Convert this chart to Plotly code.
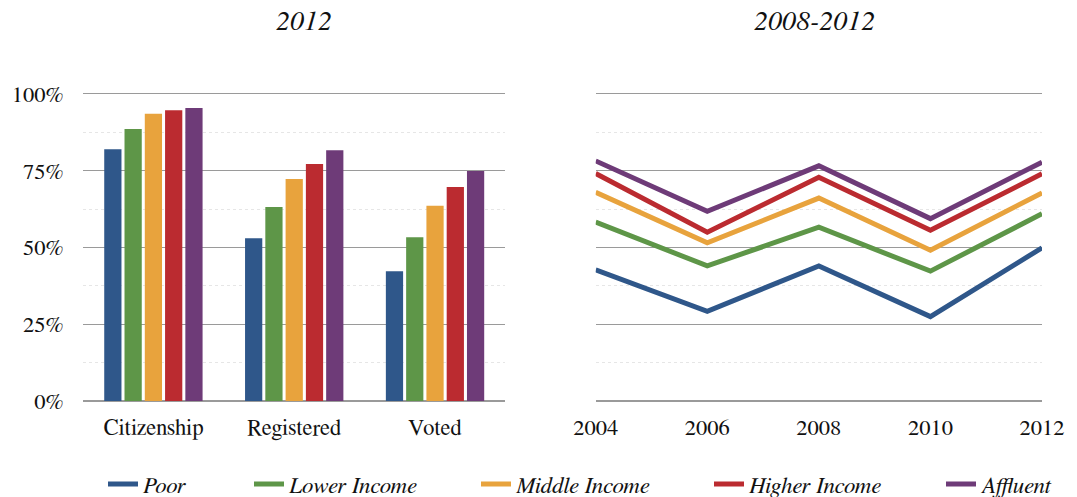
import plotly.graph_objects as go

groups = ["Poor", "Lower Income", "Middle Income", "Higher Income", "Affluent"]
colors = ["#2f578a", "#5e9648", "#e8a33d", "#bb2b30", "#6e3b78"]

bar_categories = ["Citizenship", "Registered", "Voted"]
bar_values = {
    "Poor":          [82.0, 53.0, 42.3],
    "Lower Income":  [88.6, 63.2, 53.3],
    "Middle Income": [93.6, 72.3, 63.6],
    "Higher Income": [94.7, 77.2, 69.7],
    "Affluent":      [95.4, 81.7, 74.9],
}

years = [2004, 2006, 2008, 2010, 2012]
line_values = {
    "Poor":          [42.7, 29.2, 44.0, 27.5, 49.9],
    "Lower Income":  [58.3, 44.0, 56.6, 42.3, 61.0],
    "Middle Income": [68.0, 51.5, 66.1, 49.1, 67.8],
    "Higher Income": [74.1, 55.0, 72.9, 55.6, 74.0],
    "Affluent":      [78.2, 61.8, 76.6, 59.4, 77.8],
}

y_ticks = [0, 25, 50, 75, 100]
y_tick_labels = ["0%", "25%", "50%", "75%", "100%"]

FONT = "FreeSerif, DejaVu Serif Condensed, serif"
W, H = 1077, 497
PT, PB = 88, 401  # plot area top/bottom in px

fig = go.Figure()

for g, c in zip(groups, colors):
    fig.add_trace(go.Bar(
        x=bar_categories, y=bar_values[g], name=g, marker_color=c,
        marker_line_width=0, showlegend=False, xaxis="x", yaxis="y",
    ))

legend_names = ["legend", "legend2", "legend3", "legend4", "legend5"]
for i, (g, c) in enumerate(zip(groups, colors)):
    fig.add_trace(go.Scatter(
        x=years, y=line_values[g], name=g, mode="lines",
        line=dict(color=c, width=5), xaxis="x2", yaxis="y2",
        cliponaxis=False, legend=legend_names[i],
    ))

grid_major = "#9a9a9a"
grid_minor = "#e6e6e6"
yrange = [0, 101.95]

common_y = dict(
    range=yrange, tickvals=y_ticks, showgrid=True, gridcolor=grid_major, gridwidth=1.2,
    zeroline=True, zerolinecolor=grid_major, zerolinewidth=1.5, showline=False,
    minor=dict(dtick=12.5, tick0=0, showgrid=True, gridcolor=grid_minor, griddash="dot", gridwidth=1),
    fixedrange=True,
)

text_starts = [144, 290, 517, 750, 982]
legends = {}
for i, name in enumerate(legend_names):
    legends[name] = dict(
        orientation="h", xref="container", yref="container",
        x=(text_starts[i] - 41) / W, xanchor="left",
        y=1 - 484 / H, yanchor="middle",
        bgcolor="rgba(0,0,0,0)",
        font=dict(family=FONT, size=23, color="#111", style="italic"),
    )

title_y = (PB - 22) / (PB - PT)
tickfont = dict(family=FONT, size=22.5, color="#111")

fig.update_layout(
    width=W, height=H,
    margin=dict(l=82, r=28, t=PT, b=H - PB),
    paper_bgcolor="white", plot_bgcolor="white",
    font=dict(family=FONT, size=22, color="#111"),
    barmode="group", bargap=0.28, bargroupgap=0.15,
    xaxis=dict(domain=[0, 0.4405], showgrid=False, zeroline=False, showline=False,
               ticks="outside", ticklen=6, tickcolor="rgba(0,0,0,0)", tickfont=tickfont),
    yaxis=dict(**common_y, ticktext=y_tick_labels, showticklabels=True,
               ticks="outside", ticklen=14, tickcolor="rgba(0,0,0,0)", tickfont=tickfont),
    xaxis2=dict(domain=[0.5346, 1], range=[2004, 2012], tickvals=years,
                showgrid=False, zeroline=False, showline=False,
                ticks="outside", ticklen=6, tickcolor="rgba(0,0,0,0)", tickfont=tickfont),
    yaxis2=dict(**common_y, anchor="x2", showticklabels=False),
    annotations=[
        dict(text="2012", xref="paper", yref="paper", x=(305 - 82) / 967, y=title_y,
             xanchor="center", yanchor="middle", showarrow=False,
             font=dict(family=FONT, size=28, color="#111", style="italic")),
        dict(text="2008-2012", xref="paper", yref="paper", x=(820 - 82) / 967, y=title_y,
             xanchor="center", yanchor="middle", showarrow=False,
             font=dict(family=FONT, size=28, color="#111", style="italic")),
    ],
    **legends,
)

fig.write_html("out.html")
